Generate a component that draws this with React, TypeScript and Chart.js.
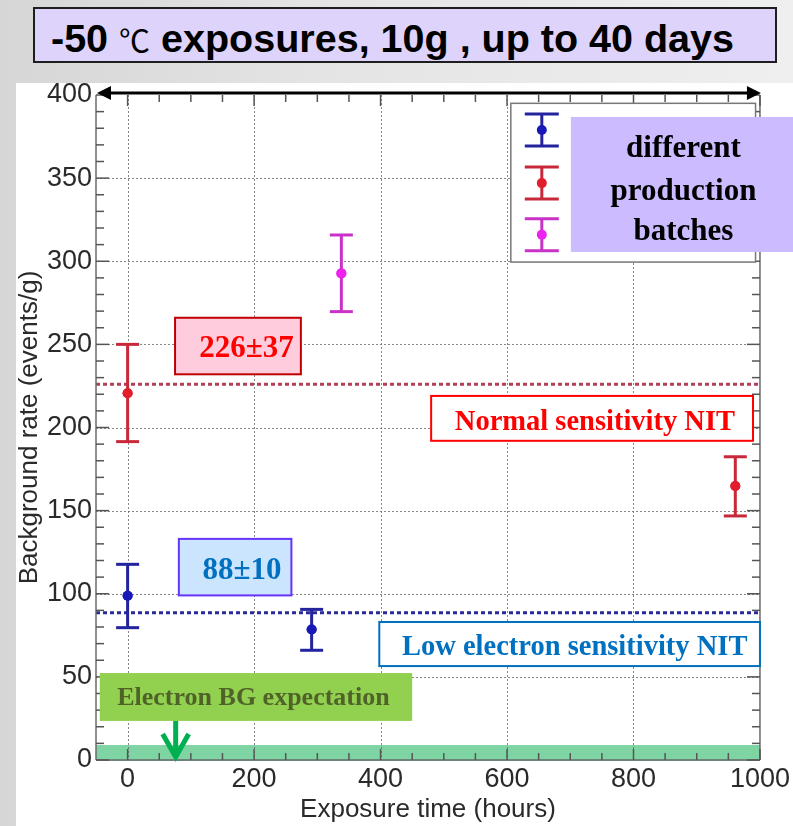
import React, { useEffect, useRef } from "react";
import { Chart, registerables } from "chart.js";

Chart.register(...registerables);
document.body.style.margin = "0";

// ---------------- data ----------------
const blueHours = [0, 291];
const blueRate = [98.8, 78.5];
const blueLow = [79.6, 66];
const blueHigh = [117.7, 90.6];

const redHours = [0, 961];
const redRate = [220.6, 164.8];
const redLow = [191.5, 146.8];
const redHigh = [250, 182.4];

const magentaHours = [338];
const magentaRate = [292.7];
const magentaLow = [269.7];
const magentaHigh = [315.8];

const normalMean = 226; // 226±37
const lowMean = 88.5; // 88±10
const electronBand = [0, 9];

const xTickValues = [0, 200, 400, 600, 800, 1000];
const yTickValues = [0, 50, 100, 150, 200, 250, 300, 350, 400];
const xRange = [-50, 1000];
const yRange = [0, 400];

const titleBold1 = "-50 ";
const titleDegree = "℃";
const titleBold2 = " exposures, 10g , up to 40 days";
const xAxisTitle = "Exposure time (hours)";
const yAxisTitle = "Background rate (events/g)";
const legendLines = ["different", "production", "batches"];

// annotation boxes (positions in data units)
const notes = [
  { text: "226±37", x: [75, 274], y: [232, 266], tx: 188, ty: 247, fill: "#ffccdd", stroke: "#c00000", color: "#ff0000", size: 31 },
  { text: "88±10", x: [81, 259], y: [99, 133], tx: 181, ty: 113.7, fill: "#cce5ff", stroke: "#6633ff", color: "#0070c0", size: 31 },
  { text: "Normal sensitivity NIT", x: [480, 989], y: [192, 219], tx: 739, ty: 203, fill: "#ffffff", stroke: "#ff0000", color: "#ff0000", size: 28.5 },
  { text: "Low electron sensitivity NIT", x: [398, 1000], y: [56.5, 83], tx: 707, ty: 67.4, fill: "#ffffff", stroke: "#0070c0", color: "#0070c0", size: 28.5 },
  { text: "Electron BG expectation", x: [-44, 450], y: [23.5, 52.3], tx: 199, ty: 37.3, fill: "#92d050", stroke: null, color: "#4f6228", size: 26 },
];

const seriesStyle = [
  { hours: blueHours, rate: blueRate, low: blueLow, high: blueHigh, bar: "#23239e", dot: "#1818b8" },
  { hours: redHours, rate: redRate, low: redLow, high: redHigh, bar: "#c8283a", dot: "#e01e2c" },
  { hours: magentaHours, rate: magentaRate, low: magentaLow, high: magentaHigh, bar: "#c832c8", dot: "#ee22ee" },
];

function line(ctx: CanvasRenderingContext2D, x1: number, y1: number, x2: number, y2: number) {
  ctx.beginPath();
  ctx.moveTo(x1, y1);
  ctx.lineTo(x2, y2);
  ctx.stroke();
}

function errorBar(ctx: CanvasRenderingContext2D, x: number, yLo: number, yHi: number, yMid: number, half: number, bar: string, dot: string) {
  ctx.strokeStyle = bar;
  ctx.lineWidth = 3;
  line(ctx, x, yLo, x, yHi);
  line(ctx, x - half, yLo, x + half, yLo);
  line(ctx, x - half, yHi, x + half, yHi);
  ctx.fillStyle = dot;
  ctx.beginPath();
  ctx.arc(x, yMid, 5, 0, Math.PI * 2);
  ctx.fill();
}

const decorPlugin = {
  id: "decor",
  beforeDatasetsDraw(chart: any) {
    const { ctx, chartArea: a } = chart;
    const xs = chart.scales.x;
    const ys = chart.scales.y;
    ctx.save();
    // electron band
    const b0 = ys.getPixelForValue(electronBand[0]);
    const b1 = ys.getPixelForValue(electronBand[1]);
    ctx.fillStyle = "#7fd4a3";
    ctx.fillRect(a.left, b1, a.right - a.left, b0 - b1 + 1);

    // dotted grid
    ctx.strokeStyle = "rgba(95,95,95,0.75)";
    ctx.lineWidth = 1;
    ctx.setLineDash([2, 2]);
    for (const v of yTickValues) {
      if (v === yRange[0] || v === yRange[1]) continue;
      const y = Math.round(ys.getPixelForValue(v)) + 0.5;
      line(ctx, a.left, y, a.right, y);
    }
    for (const v of xTickValues) {
      if (v === xRange[1]) continue;
      const x = Math.round(xs.getPixelForValue(v)) + 0.5;
      line(ctx, x, a.top, x, a.bottom);
    }

    // mean lines
    ctx.setLineDash([4, 3]);
    ctx.lineWidth = 3;
    ctx.strokeStyle = "#b04058";
    let y = ys.getPixelForValue(normalMean);
    line(ctx, a.left, y, a.right, y);
    ctx.strokeStyle = "#2a2a9c";
    y = ys.getPixelForValue(lowMean);
    line(ctx, a.left, y, a.right, y);
    ctx.setLineDash([]);

    // frame
    ctx.strokeStyle = "#6a6a6a";
    ctx.lineWidth = 1.5;
    line(ctx, a.left, a.top, a.left, a.bottom);
    line(ctx, a.right, a.top, a.right, a.bottom);
    line(ctx, a.left, a.bottom, a.right, a.bottom);

    // ticks
    ctx.strokeStyle = "#555";
    ctx.lineWidth = 1.5;
    for (let v = yRange[0]; v <= yRange[1]; v += 10) {
      const yy = ys.getPixelForValue(v);
      const len = v % 50 === 0 ? 13 : 8;
      line(ctx, a.left, yy, a.left + len, yy);
      line(ctx, a.right, yy, a.right - len, yy);
    }
    for (let v = 0; v <= xRange[1]; v += 50) {
      const xx = xs.getPixelForValue(v);
      const len = v % 200 === 0 ? 11 : 7;
      line(ctx, xx, a.bottom, xx, a.bottom - len);
      line(ctx, xx, a.top, xx, a.top + len);
    }

    // error bars
    for (const s of seriesStyle) {
      for (let i = 0; i < s.hours.length; i++) {
        errorBar(
          ctx,
          xs.getPixelForValue(s.hours[i]),
          ys.getPixelForValue(s.low[i]),
          ys.getPixelForValue(s.high[i]),
          ys.getPixelForValue(s.rate[i]),
          11.5,
          s.bar,
          s.dot
        );
      }
    }
    ctx.restore();
  },
  afterDatasetsDraw(chart: any) {
    const { ctx, chartArea: a } = chart;
    const xs = chart.scales.x;
    const ys = chart.scales.y;
    ctx.save();

    // annotation boxes
    for (const n of notes) {
      const x1 = xs.getPixelForValue(n.x[0]);
      const x2 = xs.getPixelForValue(n.x[1]);
      const y1 = ys.getPixelForValue(n.y[1]);
      const y2 = ys.getPixelForValue(n.y[0]);
      ctx.fillStyle = n.fill;
      ctx.fillRect(x1, y1, x2 - x1, y2 - y1);
      if (n.stroke) {
        ctx.strokeStyle = n.stroke;
        ctx.lineWidth = 2;
        ctx.strokeRect(x1, y1, x2 - x1, y2 - y1);
      }
      ctx.fillStyle = n.color;
      ctx.font = `bold ${n.size}px "Liberation Serif", "Times New Roman", serif`;
      ctx.textAlign = "center";
      ctx.textBaseline = "middle";
      ctx.fillText(n.text, xs.getPixelForValue(n.tx), ys.getPixelForValue(n.ty));
    }

    // green arrow
    const ax = xs.getPixelForValue(76);
    const aTop = ys.getPixelForValue(23.5);
    const aTip = ys.getPixelForValue(0.6);
    ctx.strokeStyle = "#00b050";
    ctx.lineWidth = 5;
    ctx.lineCap = "butt";
    line(ctx, ax, aTop, ax, aTip - 2);
    ctx.lineJoin = "miter";
    ctx.beginPath();
    ctx.moveTo(ax - 13, aTip - 25);
    ctx.lineTo(ax, aTip - 2);
    ctx.lineTo(ax + 13, aTip - 25);
    ctx.stroke();

    // legend box
    const lx1 = xs.getPixelForValue(606);
    const lx2 = xs.getPixelForValue(993);
    const ly1 = ys.getPixelForValue(395);
    const ly2 = ys.getPixelForValue(299.5);
    ctx.fillStyle = "#ffffff";
    ctx.fillRect(lx1, ly1, lx2 - lx1, ly2 - ly1);
    ctx.strokeStyle = "#777";
    ctx.lineWidth = 1.5;
    ctx.strokeRect(lx1, ly1, lx2 - lx1, ly2 - ly1);
    const legendY = [379, 347, 316];
    const lsx = xs.getPixelForValue(655);
    seriesStyle.forEach((s, i) => {
      const cy = ys.getPixelForValue(legendY[i]);
      errorBar(ctx, lsx, cy + 16, cy - 16, cy, 17, s.bar, s.dot);
    });
    // purple label
    const px1 = xs.getPixelForValue(701);
    const py1 = ys.getPixelForValue(386.8);
    const py2 = ys.getPixelForValue(305.6);
    ctx.fillStyle = "#ccbbff";
    ctx.fillRect(px1, py1, chart.width - px1, py2 - py1);
    ctx.fillStyle = "#000";
    ctx.font = `bold 31px "Liberation Serif", "Times New Roman", serif`;
    ctx.textAlign = "center";
    ctx.textBaseline = "alphabetic";
    const lineY = [362.7, 336.8, 312.8];
    legendLines.forEach((t, i) => {
      ctx.fillText(t, xs.getPixelForValue(879), ys.getPixelForValue(lineY[i]));
    });

    // top double arrow
    const ty = a.top - 2;
    ctx.strokeStyle = "#000";
    ctx.fillStyle = "#000";
    ctx.lineWidth = 3;
    line(ctx, a.left + 10, ty, a.right - 10, ty);
    ctx.beginPath();
    ctx.moveTo(a.left + 1, ty);
    ctx.lineTo(a.left + 15, ty - 7);
    ctx.lineTo(a.left + 15, ty + 7);
    ctx.closePath();
    ctx.fill();
    ctx.beginPath();
    ctx.moveTo(a.right + 1, ty);
    ctx.lineTo(a.right - 13, ty - 7);
    ctx.lineTo(a.right - 13, ty + 7);
    ctx.closePath();
    ctx.fill();

    ctx.restore();
  },
};

export default function App() {
  const ref = useRef<HTMLCanvasElement | null>(null);

  useEffect(() => {
    if (!ref.current) return;
    const tickFont = { family: '"Liberation Sans", Arial, sans-serif', size: 27 };
    const titleFont = { family: '"Liberation Sans", Arial, sans-serif', size: 26 };
    const chart = new Chart(ref.current, {
      type: "scatter",
      data: {
        datasets: seriesStyle.map((s) => ({
          data: s.hours.map((h, i) => ({ x: h, y: s.rate[i] })),
          pointRadius: 5,
          pointBackgroundColor: s.dot,
          pointBorderWidth: 0,
          showLine: false,
        })),
      },
      options: {
        animation: false,
        responsive: false,
        events: [],
        layout: { padding: { left: 0, top: 95, right: 31, bottom: 0 } },
        plugins: { legend: { display: false }, tooltip: { enabled: false } },
        scales: {
          x: {
            type: "linear",
            min: xRange[0],
            max: xRange[1],
            afterBuildTicks: (s: any) => {
              s.ticks = xTickValues.map((v) => ({ value: v }));
            },
            afterFit: (s: any) => {
              s.height = 66;
            },
            grid: { display: false, drawTicks: false },
            border: { display: false },
            ticks: {
              font: tickFont,
              color: "#2a2a2a",
              padding: 3,
              maxRotation: 0,
              autoSkip: false,
              callback: (v: any) => String(v),
            },
            title: { display: true, text: xAxisTitle, font: titleFont, color: "#2a2a2a", padding: { top: 0, bottom: 1 } },
          },
          y: {
            type: "linear",
            min: yRange[0],
            max: yRange[1],
            afterBuildTicks: (s: any) => {
              s.ticks = yTickValues.map((v) => ({ value: v }));
            },
            afterFit: (s: any) => {
              s.width = 96;
            },
            grid: { display: false, drawTicks: false },
            border: { display: false },
            ticks: { font: tickFont, color: "#2a2a2a", padding: 4, autoSkip: false, callback: (v: any) => String(v) },
            title: { display: true, text: yAxisTitle, font: titleFont, color: "#2a2a2a", padding: { top: 14, bottom: 0 } },
          },
        },
      },
      plugins: [decorPlugin],
    } as any);
    return () => chart.destroy();
  }, []);

  return (
    <div
      style={{
        position: "relative",
        width: 793,
        height: 826,
        overflow: "hidden",
        background: "linear-gradient(to right, #d6d6d6, #e4e4e4 40%, #efefef)",
      }}
    >
      <div style={{ position: "absolute", left: 16, top: 83, width: 777, height: 743, background: "#ffffff" }} />
      <canvas
        ref={ref}
        width={793}
        height={826}
        style={{ position: "absolute", left: 0, top: 0, width: 793, height: 826, display: "block" }}
      />
      <div
        style={{
          position: "absolute",
          left: 33,
          top: 7,
          width: 744,
          height: 56,
          boxSizing: "border-box",
          border: "2px solid #1e1e1e",
          background: "#ddd3fb",
          paddingLeft: 16,
          paddingTop: 4,
          lineHeight: "50px",
          whiteSpace: "pre",
          color: "#000",
          fontFamily: '"Liberation Sans", Arial, sans-serif',
          fontWeight: 700,
          fontSize: 39.5,
        }}
      >
        {titleBold1}
        <span style={{ fontFamily: '"Noto Sans CJK JP", "DejaVu Sans", sans-serif', fontWeight: 400, fontSize: 31 }}>
          {titleDegree}
        </span>
        {titleBold2}
      </div>
    </div>
  );
}
